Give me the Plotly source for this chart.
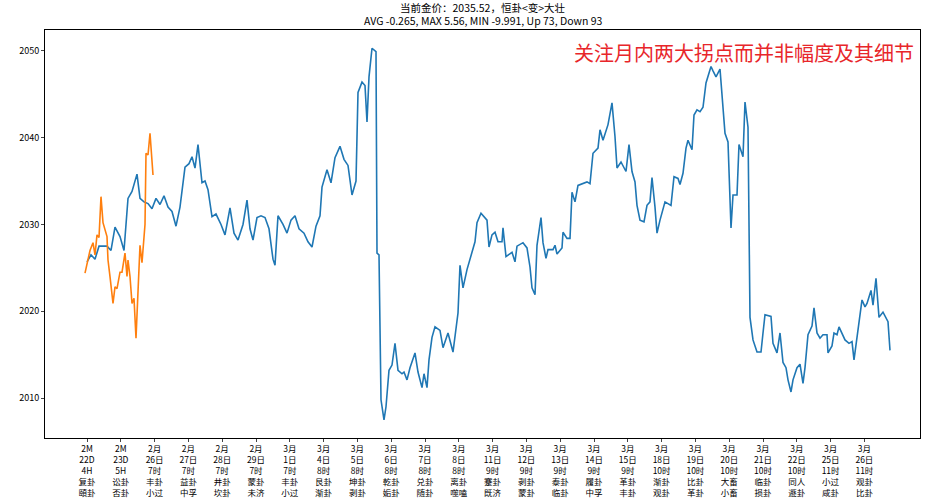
import plotly.graph_objects as go

# (bar index, price); one session ~33.8 bars
blue = [(0,2025.7),(4,2026.5),(8,2026.0),(12,2027.5),(16,2027.5),(20,2027.5),(24,2027.0),(28,2029.7),(33,2028.6),(37,2027.0),
(41,2033.0),(45,2033.8),(50,2035.8),(53,2033.0),(57,2032.6),(61,2032.4),(65,2031.8),(69,2033.0),(73,2032.3),(77,2033.3),
(81,2032.0),(85,2031.5),(89,2029.8),(93,2032.0),(98,2036.6),(102,2037.0),(105,2037.8),(108,2036.5),(111,2039.2),(115,2034.8),
(118,2035.0),(121,2034.0),(125,2030.9),(129,2031.2),(134,2030.0),(138,2028.8),(143,2031.9),(147,2029.0),(151,2028.2),(156,2030.0),
(160,2032.8),(163,2029.5),(166,2028.2),(170,2030.8),(174,2031.0),(178,2030.8),(182,2029.5),(186,2026.0),(188,2025.3),(191,2031.0),
(196,2030.0),(200,2029.0),(204,2030.5),(208,2031.0),(212,2029.5),(217,2029.0),(221,2028.0),(225,2027.4),(229,2029.8),(233,2031.0),
(235,2034.3),(240,2036.3),(244,2034.8),(248,2037.7),(253,2039.0),(257,2037.5),(261,2036.8),(265,2033.4),(269,2035.0),(271,2045.2),
(275,2046.4),(278,2046.0),(280,2041.8),(282,2047.0),(285,2050.3),(289,2049.9),(290,2026.7),(292,2026.5),(294,2009.8),(297,2007.5),
(299,2009.0),(302,2013.2),(305,2013.8),(308,2016.3),(311,2013.2),(315,2012.8),(317,2013.0),(320,2012.1),(323,2013.5),(328,2015.2),
(331,2013.0),(335,2011.2),(337,2012.8),(340,2011.2),(342,2014.4),(345,2017.0),(348,2018.2),(353,2017.8),(356,2015.8),(361,2017.5),
(366,2015.3),(368,2017.3),(371,2019.8),(373,2025.3),(376,2022.7),(380,2024.8),(383,2026.1),(388,2028.0),(390,2030.2),(394,2031.3),
(400,2030.5),(402,2027.4),(405,2028.8),(408,2029.1),(411,2028.0),(415,2028.0),(416,2029.6),(419,2026.3),(425,2026.8),(428,2025.7),
(430,2027.5),(436,2027.9),(440,2027.3),(443,2025.1),(445,2022.7),(448,2021.9),(450,2027.6),(454,2030.8),(456,2027.9),(459,2026.1),
(461,2027.1),(466,2027.1),(468,2027.6),(470,2026.6),(475,2027.3),(476,2029.1),(480,2028.4),(483,2028.4),(485,2033.7),(488,2032.6),
(491,2034.5),(500,2034.9),(503,2034.7),(506,2038.2),(511,2038.8),(513,2040.9),(516,2039.7),(521,2041.5),(525,2044.0),(528,2040.1),
(530,2036.5),(534,2037.2),(539,2036.1),(542,2039.2),(545,2036.1),(548,2034.9),(550,2032.2),(553,2030.5),(557,2030.3),(560,2032.2),
(563,2032.6),(565,2035.4),(568,2032.0),(570,2029.0),(573,2030.5),(578,2032.6),(584,2032.2),(587,2035.5),(591,2035.3),(593,2034.6),
(596,2035.9),(599,2038.8),(601,2039.7),(605,2038.6),(607,2042.6),(610,2043.2),(613,2043.0),(616,2043.5),(619,2046.3),(621,2047.0),
(624,2048.2),(626,2047.7),(629,2047.0),(633,2047.9),(636,2044.0),(638,2040.5),(641,2039.5),(644,2029.6),(646,2033.4),(650,2033.4),
(652,2039.2),(656,2037.8),(658,2044.1),(661,2041.2),(663,2019.3),(666,2016.7),(670,2015.3),(674,2015.3),(676,2017.5),(678,2019.6),
(684,2019.4),(686,2016.3),(690,2015.2),(693,2017.5),(696,2014.1),(699,2013.5),(701,2012.1),(704,2010.7),(706,2012.1),(710,2013.5),
(713,2013.9),(716,2011.7),(718,2013.5),(721,2017.3),(725,2018.3),(727,2020.4),(730,2017.5),(733,2016.9),(736,2017.3),(740,2017.3),
(741,2015.2),(745,2016.0),(747,2017.5),(750,2017.3),(752,2018.2),(756,2017.3),(758,2016.7),(762,2016.3),(765,2016.5),(767,2014.4),
(770,2017.1),(772,2018.6),(775,2021.3),(778,2020.5),(780,2020.9),(784,2022.4),(786,2020.7),(789,2023.8),(792,2019.3),(796,2019.9),
(800,2019.1),(801,2018.8),(803,2015.5)]
blue_t = [a for a, b in blue]
blue_p = [b for a, b in blue]

orange = [(-2,2024.4),(1,2025.9),(3,2027.0),(6,2027.9),(8,2026.5),(10,2028.8),(12,2028.5),(14,2033.2),(16,2030.2),(20,2028.6),
(21,2025.9),(23,2024.0),(26,2020.9),(28,2022.8),(30,2022.6),(33,2024.5),(35,2024.5),(38,2026.7),(40,2024.0),(41,2025.9),
(43,2024.0),(45,2020.9),(47,2021.5),(49,2016.9),(51,2022.8),(53,2027.6),(55,2025.6),(58,2030.0),(59,2038.2),(61,2038.0),
(63,2040.5),(66,2035.7)]
orange_t = [a for a, b in orange]
orange_p = [b for a, b in orange]

tick_labels = ["2M<br>22D<br>4H<br>复卦<br>頤卦", "2M<br>23D<br>5H<br>讼卦<br>否卦",
  "2月<br>26日<br>7时<br>丰卦<br>小过", "2月<br>27日<br>7时<br>益卦<br>中孚", "2月<br>28日<br>7时<br>井卦<br>坎卦",
  "2月<br>29日<br>7时<br>蒙卦<br>未济", "3月<br>1日<br>7时<br>丰卦<br>小过", "3月<br>4日<br>8时<br>艮卦<br>渐卦",
  "3月<br>5日<br>8时<br>坤卦<br>剥卦", "3月<br>6日<br>8时<br>乾卦<br>姤卦", "3月<br>7日<br>8时<br>兑卦<br>随卦",
  "3月<br>8日<br>8时<br>离卦<br>噬嗑", "3月<br>11日<br>9时<br>蹇卦<br>既济", "3月<br>12日<br>9时<br>剥卦<br>蒙卦",
  "3月<br>13日<br>9时<br>泰卦<br>临卦", "3月<br>14日<br>9时<br>履卦<br>中孚", "3月<br>15日<br>9时<br>革卦<br>丰卦",
  "3月<br>18日<br>10时<br>渐卦<br>观卦", "3月<br>19日<br>10时<br>比卦<br>革卦", "3月<br>20日<br>10时<br>大畜<br>小畜",
  "3月<br>21日<br>10时<br>临卦<br>损卦", "3月<br>22日<br>10时<br>同人<br>遯卦", "3月<br>25日<br>11时<br>小过<br>咸卦",
  "3月<br>26日<br>11时<br>观卦<br>比卦"]
tick_step = 33.8
tick_vals = [i * tick_step for i in range(len(tick_labels))]

title1 = "当前金价：2035.52，恒卦&lt;变&gt;大壮"
title2 = "AVG -0.265, MAX 5.56, MIN -9.991, Up 73, Down 93"
note = "关注月内两大拐点而并非幅度及其细节"

font = "Noto Sans CJK SC"
fig = go.Figure()
fig.add_trace(go.Scatter(x=blue_t, y=blue_p, mode="lines", line=dict(color="#1f77b4", width=1.6), showlegend=False))
fig.add_trace(go.Scatter(x=orange_t, y=orange_p, mode="lines", line=dict(color="#ff7f0e", width=1.6), showlegend=False))

fig.update_layout(
    width=928, height=500, paper_bgcolor="white", plot_bgcolor="white",
    margin=dict(l=45, r=8, t=30, b=62, autoexpand=False),
    font=dict(family=font, size=10, color="black"),
    xaxis=dict(range=[-42, 833], tickvals=tick_vals, ticktext=tick_labels, showgrid=False, zeroline=False,
               showline=True, linecolor="black", mirror=True, ticks="outside", ticklen=3, tickangle=0,
               tickfont=dict(size=8.5), automargin=False),
    yaxis=dict(range=[2005.4, 2052.4], tickvals=[2010, 2020, 2030, 2040, 2050], showgrid=False, zeroline=False,
               showline=True, linecolor="black", mirror=True, ticks="outside", ticklen=3, tickfont=dict(size=9),
               automargin=False),
    annotations=[
        dict(text=title1, xref="paper", yref="paper", x=0.5, y=1.054, xanchor="center", yanchor="middle",
             showarrow=False, font=dict(size=10.5)),
        dict(text=title2, xref="paper", yref="paper", x=0.5, y=1.023, xanchor="center", yanchor="middle",
             showarrow=False, font=dict(size=10.5)),
        dict(text=note, xref="paper", yref="paper", x=0.995, y=0.985,
             xanchor="right", yanchor="top", showarrow=False, font=dict(size=20, color="#e8262a"))],
)
fig.write_html("out.html", config={"displayModeBar": False},
               post_script="document.body.style.margin='0';document.body.style.overflow='hidden';")
